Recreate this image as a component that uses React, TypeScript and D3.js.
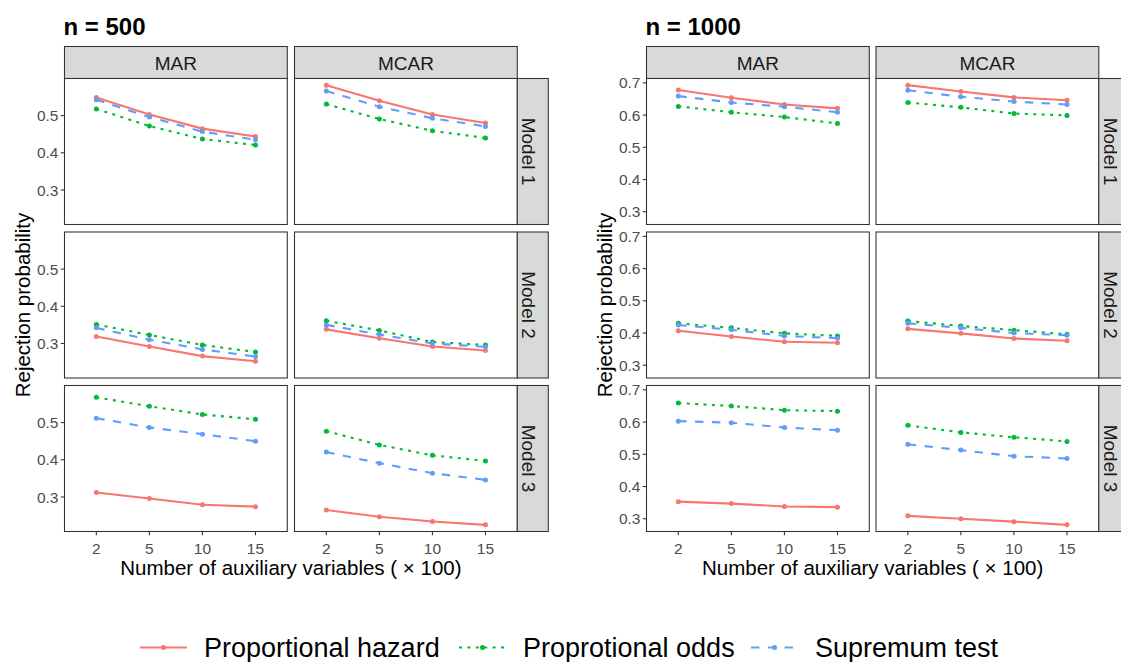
import React from "react";
import * as d3 from "d3";

// ---------- data ----------
const xLevels = ["2", "5", "10", "15"];
const missingTypes = ["MAR", "MCAR"];
const models = ["Model 1", "Model 2", "Model 3"];
const testNames = ["Proportional hazard", "Proprotional odds", "Supremum test"];

// panel order: M1-MAR, M1-MCAR, M2-MAR, M2-MCAR, M3-MAR, M3-MCAR
const ph500 = [
  [0.549, 0.503, 0.465, 0.444],
  [0.582, 0.540, 0.503, 0.480],
  [0.319, 0.292, 0.266, 0.252],
  [0.338, 0.314, 0.292, 0.281],
  [0.312, 0.296, 0.279, 0.274],
  [0.265, 0.247, 0.234, 0.225],
];
const po500 = [
  [0.518, 0.472, 0.437, 0.421],
  [0.531, 0.491, 0.459, 0.440],
  [0.351, 0.323, 0.296, 0.277],
  [0.361, 0.335, 0.304, 0.296],
  [0.568, 0.544, 0.522, 0.509],
  [0.477, 0.440, 0.412, 0.397],
];
const st500 = [
  [0.543, 0.496, 0.457, 0.435],
  [0.566, 0.524, 0.493, 0.471],
  [0.342, 0.310, 0.284, 0.265],
  [0.350, 0.324, 0.300, 0.291],
  [0.512, 0.487, 0.469, 0.450],
  [0.421, 0.391, 0.364, 0.346],
];
const ph1000 = [
  [0.678, 0.654, 0.633, 0.621],
  [0.693, 0.673, 0.655, 0.646],
  [0.407, 0.389, 0.373, 0.370],
  [0.413, 0.399, 0.383, 0.376],
  [0.353, 0.347, 0.338, 0.336],
  [0.309, 0.300, 0.291, 0.281],
];
const po1000 = [
  [0.627, 0.609, 0.594, 0.574],
  [0.639, 0.624, 0.605, 0.599],
  [0.430, 0.416, 0.399, 0.391],
  [0.437, 0.422, 0.409, 0.396],
  [0.659, 0.650, 0.637, 0.634],
  [0.590, 0.568, 0.553, 0.540],
];
const st1000 = [
  [0.659, 0.639, 0.626, 0.609],
  [0.677, 0.657, 0.642, 0.633],
  [0.425, 0.410, 0.391, 0.384],
  [0.430, 0.416, 0.400, 0.393],
  [0.603, 0.598, 0.583, 0.575],
  [0.531, 0.513, 0.494, 0.487],
];
const yTicks500 = [0.3, 0.4, 0.5];
const yTicks1000 = [0.3, 0.4, 0.5, 0.6, 0.7];

// ---------- styles ----------
const COLORS = ["#F8766D", "#00BA38", "#619CFF"];
const DASHES = [undefined, "3,5.4", "8.4,8.4"];
const FONT = "'Liberation Sans', Arial, sans-serif";
const LW = 2.1;
const PR = 2.5;

// ---------- layout ----------
const W = 1121;
const H = 662;
const PANEL_W = 222.8;
const ROW_TOP = [78.5, 232, 385.5];
const ROW_H = 146;
const STRIP_TOP = 46.5;
const STRIP_H = 32;
const RSTRIP_W = 31;

type PlotProps = {
  title: string;
  series: number[][][];
  yTicks: number[];
  px: number[];
};

function FacetPlot({ title, series, yTicks, px }: PlotProps) {
  const all = series.flat(2);
  const [mn, mx] = d3.extent(all) as [number, number];
  const pad = (mx - mn) * 0.05;
  const domain: [number, number] = [mn - pad, mx + pad];
  const right = px[1] + PANEL_W;
  const bottom = ROW_TOP[2] + ROW_H;
  const yMid = (ROW_TOP[0] + bottom) / 2;
  const xMid = (px[0] + right) / 2;

  const panels: React.ReactNode[] = [];
  models.forEach((m, r) => {
    const y = d3.scaleLinear().domain(domain).range([ROW_TOP[r] + ROW_H, ROW_TOP[r]]);
    missingTypes.forEach((mt, c) => {
      const x = d3
        .scalePoint<string>()
        .domain(xLevels)
        .range([px[c], px[c] + PANEL_W])
        .padding(0.6);
      const pIdx = r * 2 + c;
      const line = d3
        .line<number>()
        .x((_, i) => x(xLevels[i]) as number)
        .y((v) => y(v));
      panels.push(
        <g key={`p-${r}-${c}`}>
          <rect x={px[c]} y={ROW_TOP[r]} width={PANEL_W} height={ROW_H} fill="#FFFFFF" />
          {series.map((s, t) => (
            <path
              key={`l${t}`}
              d={line(s[pIdx]) || ""}
              fill="none"
              stroke={COLORS[t]}
              strokeWidth={LW}
              strokeDasharray={DASHES[t]}
            />
          ))}
          {series.map((s, t) =>
            s[pIdx].map((v, i) => (
              <circle key={`c${t}-${i}`} cx={x(xLevels[i])} cy={y(v)} r={PR} fill={COLORS[t]} />
            ))
          )}
          <rect
            x={px[c]}
            y={ROW_TOP[r]}
            width={PANEL_W}
            height={ROW_H}
            fill="none"
            stroke="#333333"
            strokeWidth={1.07}
          />
          {c === 0 &&
            yTicks.map((tv) => (
              <g key={`yt${tv}`}>
                <line x1={px[0] - 3.7} x2={px[0]} y1={y(tv)} y2={y(tv)} stroke="#333333" strokeWidth={1.07} />
                <text
                  x={px[0] - 6}
                  y={y(tv)}
                  dy="0.36em"
                  textAnchor="end"
                  fontSize={15.5}
                  fill="#4D4D4D"
                  fontFamily={FONT}
                >
                  {d3.format(".1f")(tv)}
                </text>
              </g>
            ))}
          {r === 2 &&
            xLevels.map((lv) => (
              <g key={`xt${lv}`}>
                <line
                  x1={x(lv)}
                  x2={x(lv)}
                  y1={bottom}
                  y2={bottom + 3.7}
                  stroke="#333333"
                  strokeWidth={1.07}
                />
                <text
                  x={x(lv)}
                  y={bottom + 22}
                  textAnchor="middle"
                  fontSize={15.5}
                  fill="#4D4D4D"
                  fontFamily={FONT}
                >
                  {lv}
                </text>
              </g>
            ))}
        </g>
      );
    });
    // right strip
    panels.push(
      <g key={`rs-${r}`}>
        <rect
          x={right}
          y={ROW_TOP[r]}
          width={RSTRIP_W}
          height={ROW_H}
          fill="#D9D9D9"
          stroke="#333333"
          strokeWidth={1.07}
        />
        <text
          transform={`translate(${right + 5},${ROW_TOP[r] + ROW_H / 2}) rotate(90)`}
          textAnchor="middle"
          fontSize={19}
          fill="#1A1A1A"
          fontFamily={FONT}
        >
          {m}
        </text>
      </g>
    );
  });

  return (
    <g>
      <text x={px[0] - 1} y={35} fontSize={24} fontWeight="bold" fontFamily={FONT} fill="#000000">
        {title}
      </text>
      {missingTypes.map((mt, c) => (
        <g key={`ts${c}`}>
          <rect
            x={px[c]}
            y={STRIP_TOP}
            width={PANEL_W}
            height={STRIP_H}
            fill="#D9D9D9"
            stroke="#333333"
            strokeWidth={1.07}
          />
          <text
            x={px[c] + PANEL_W / 2}
            y={STRIP_TOP + 23.5}
            textAnchor="middle"
            fontSize={19}
            fill="#1A1A1A"
            fontFamily={FONT}
          >
            {mt}
          </text>
        </g>
      ))}
      {panels}
      <text
        transform={`translate(${px[0] - 35},${yMid}) rotate(-90)`}
        textAnchor="middle"
        fontSize={20.5}
        fill="#000000"
        fontFamily={FONT}
      >
        Rejection probability
      </text>
      <text x={xMid} y={575} textAnchor="middle" fontSize={20.5} fill="#000000" fontFamily={FONT}>
        Number of auxiliary variables ( × 100)
      </text>
    </g>
  );
}

const LEGEND_X = [140, 459, 751];

function Legend() {
  const cy = 647.5;
  return (
    <g>
      {testNames.map((name, t) => {
        const x0 = LEGEND_X[t];
        return (
          <g key={name}>
            <line
              x1={x0}
              x2={x0 + 47}
              y1={cy}
              y2={cy}
              stroke={COLORS[t]}
              strokeWidth={LW}
              strokeDasharray={DASHES[t]}
            />
            <circle cx={x0 + 23.5} cy={cy} r={PR} fill={COLORS[t]} />
            <text x={x0 + 64} y={cy + 9.5} fontSize={27} fill="#000000" fontFamily={FONT}>
              {name}
            </text>
          </g>
        );
      })}
    </g>
  );
}

export default function App() {
  return (
    <svg
      width={W}
      height={H}
      viewBox={`0 0 ${W} ${H}`}
      style={{ position: "absolute", left: 0, top: 0, background: "#FFFFFF" }}
    >
      <rect x={0} y={0} width={W} height={H} fill="#FFFFFF" />
      <FacetPlot title="n = 500" series={[ph500, po500, st500]} yTicks={yTicks500} px={[64.5, 294.5]} />
      <FacetPlot title="n = 1000" series={[ph1000, po1000, st1000]} yTicks={yTicks1000} px={[646.5, 876]} />
      <Legend />
    </svg>
  );
}
